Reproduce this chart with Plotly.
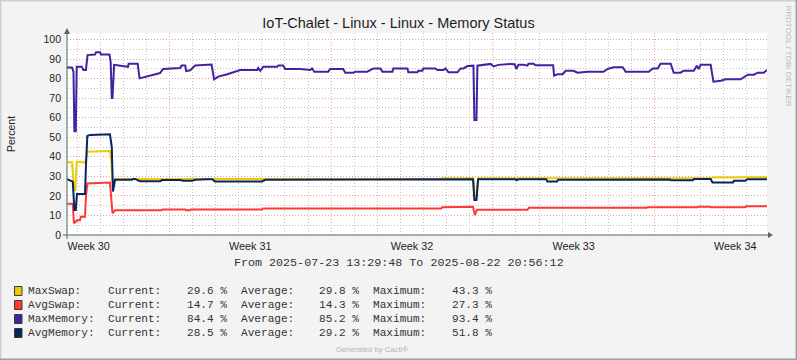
import pandas as pd
import plotly.graph_objects as go

# ---------------- data ----------------
title_text = "IoT-Chalet - Linux - Linux - Memory Status"
t_start = "2025-07-23 13:29:48"
t_end = "2025-08-22 20:56:12"

week_labels = ["Week 30", "Week 31", "Week 32", "Week 33", "Week 34"]
week_label_times = ["2025-07-24 12:00", "2025-07-31 12:00", "2025-08-07 12:00",
                    "2025-08-14 12:00", "2025-08-21 12:00"]
week_start_times = ["2025-07-28", "2025-08-04", "2025-08-11", "2025-08-18"]

y_ticks = [0, 10, 20, 30, 40, 50, 60, 70, 80, 90, 100]
y_minor = [5, 15, 25, 35, 45, 55, 65, 75, 85, 95]

# time of each reading = days after t_start
max_swap_days = [0, 0.22, 0.30, 0.36, 0.42, 0.65, 0.70, 0.78, 0.88, 1.86, 1.92, 1.97, 2.06,
                 7.50, 7.55, 16.20, 16.25, 17.60, 17.66, 17.74, 17.80, 27.90, 27.95,
                 29.40, 29.45, 30.31]
max_swap = [37.2, 37.2, 23.0, 23.0, 37.5, 37.5, 37.0, 37.0, 42.6, 43.0, 38.0, 27.0, 28.6,
            28.6, 28.8, 28.8, 29.0, 29.0, 19.0, 19.0, 29.0, 29.0, 29.4,
            29.4, 29.6, 29.6]

avg_swap_days = [0, 0.25, 0.30, 0.36, 0.42, 0.56, 0.60, 0.78, 0.82, 0.88, 1.86, 1.97, 2.08,
                 4.10, 4.14, 5.12, 5.16, 5.33, 5.37, 8.45, 8.50, 16.20, 16.25, 17.00, 17.04,
                 17.58, 17.66, 17.75, 19.94, 20.00, 25.10, 25.15, 27.30, 27.35, 27.85, 27.90,
                 29.37, 29.42, 30.31]
avg_swap = [16.0, 16.0, 6.0, 6.5, 7.5, 7.5, 9.3, 9.3, 19.6, 26.4, 26.8, 11.1, 12.6,
            12.6, 13.0, 13.0, 12.6, 12.6, 13.0, 13.0, 13.6, 13.6, 14.2, 14.2, 14.4,
            14.4, 10.2, 12.9, 12.9, 13.9, 13.9, 14.2, 14.2, 14.4, 14.4, 14.2,
            14.2, 14.7, 14.7]

max_mem_days = [0, 0.22, 0.28, 0.32, 0.38, 0.42, 0.64, 0.71, 0.82, 0.89, 1.21, 1.26, 1.43,
                1.47, 1.84, 1.89, 1.94, 1.97, 2.04, 2.34, 2.41, 2.64, 2.67, 3.06, 3.14,
                3.43, 3.73, 4.03, 4.16, 4.90, 4.96, 5.12, 5.16, 5.33, 5.55, 6.26, 6.37,
                6.55, 6.94, 7.24, 7.50, 8.24, 8.28, 8.37, 8.50, 9.10, 9.15, 9.36, 9.45,
                10.10, 10.53, 10.61, 10.71, 11.31, 11.40, 11.96, 12.05, 12.40, 12.49,
                13.00, 13.27, 13.57, 13.66, 14.09, 14.13, 14.74, 14.78, 15.17, 15.22,
                15.39, 15.43, 15.95, 16.04, 16.30, 16.39, 16.52, 16.91, 17.04, 17.17,
                17.34, 17.60, 17.64, 17.73, 17.77, 18.21, 18.34, 18.47, 18.68, 19.20,
                19.38, 19.46, 19.55, 19.77, 19.94, 19.98, 20.20, 20.29, 21.05, 21.09,
                21.24, 21.46, 21.59, 21.93, 22.11, 22.54, 23.23, 23.41, 23.67, 24.06,
                24.19, 25.19, 25.36, 25.58, 25.70, 26.14, 26.27, 26.57, 26.70, 27.14,
                27.27, 27.35, 27.44, 27.87, 27.99, 28.31, 28.52, 29.17, 29.30, 29.48,
                29.74, 29.91, 30.17, 30.31]
max_mem = [85.6, 85.6, 83.5, 53.0, 53.0, 86.0, 86.0, 84.4, 84.4, 92.0, 92.3, 93.4, 93.4,
           92.3, 92.3, 88.6, 70.0, 70.0, 87.0, 86.5, 86.0, 86.0, 87.6, 87.6, 80.1,
           81.0, 82.0, 82.8, 84.9, 85.4, 86.7, 86.7, 83.8, 84.2, 86.7, 87.2, 79.6,
           81.0, 82.2, 83.2, 84.4, 84.4, 85.4, 84.0, 86.0, 86.0, 86.7, 86.7, 84.9,
           84.9, 84.4, 85.2, 83.5, 83.5, 84.9, 84.9, 83.0, 83.0, 83.5,
           83.5, 85.2, 85.2, 83.5, 83.5, 85.2, 85.2, 83.2, 83.2, 84.0,
           84.0, 85.2, 85.2, 84.4, 84.4, 85.2, 83.2, 83.2, 85.2, 85.2,
           86.4, 86.6, 58.8, 58.8, 86.6, 87.0, 87.5, 86.2, 87.0, 87.5,
           87.3, 84.9, 87.0, 87.0, 86.6, 87.6, 87.6, 86.8, 86.8, 81.5,
           82.2, 82.2, 84.0, 84.0, 83.0, 83.5, 83.5, 84.9, 85.8, 85.8,
           83.5, 83.5, 85.2, 85.2, 87.6, 87.6, 83.0, 83.0, 84.0, 84.0,
           86.6, 84.9, 87.0, 87.0, 78.4, 78.9, 79.6, 79.6, 80.5, 82.0,
           82.0, 83.0, 83.0, 84.4]

avg_mem_days = [0, 0.25, 0.32, 0.38, 0.43, 0.78, 0.82, 0.88, 1.00, 1.86, 1.94, 1.99, 2.08,
                2.82, 2.86, 2.95, 3.03, 3.16, 4.03, 4.12, 4.90, 5.03, 5.42, 5.55, 6.07,
                6.28, 6.41, 8.45, 8.58, 10.10, 10.20, 17.58, 17.64, 17.73, 17.80, 19.42,
                19.46, 19.55, 20.75, 20.80, 21.22, 21.27, 26.10, 26.15, 27.10, 27.15,
                27.87, 27.95, 28.84, 28.88, 29.37, 29.46, 30.31]
avg_mem = [28.5, 27.3, 12.8, 12.8, 21.0, 21.0, 35.0, 50.6, 51.2, 51.5, 45.0, 22.2, 28.2,
           28.2, 28.7, 28.7, 28.2, 27.5, 27.5, 28.1, 28.1, 27.8, 27.8, 28.2, 28.5,
           28.5, 27.4, 27.4, 28.2, 28.2, 28.5, 28.5, 17.9, 17.9, 28.5, 28.5,
           28.0, 28.5, 28.5, 27.3, 27.3, 28.3, 28.4, 28.0, 28.0, 28.6,
           28.6, 26.8, 26.8, 27.8, 27.8, 28.5, 28.5]

legend_names = ["MaxSwap:", "AvgSwap:", "MaxMemory:", "AvgMemory:"]
legend_current = [29.6, 14.7, 84.4, 28.5]
legend_average = [29.8, 14.3, 85.2, 29.2]
legend_maximum = [43.3, 27.3, 93.4, 51.8]
series_colors = ["#EACC00", "#FF3932", "#4123A1", "#06265E"]
series_days = [max_swap_days, avg_swap_days, max_mem_days, avg_mem_days]
series_vals = [max_swap, avg_swap, max_mem, avg_mem]

# ---------------- layout geometry ----------------
W, H = 797, 360
ML, MR, MT, MB = 67, 30, 33, 125
PW, PH = W - ML - MR, H - MT - MB


def px(x):
    return (x - ML) / PW


def py(y):
    return (H - MB - y) / PH


AXIS = "#4E6B5E"
TXT = "#1E1E1E"
MAJ = "#EE9A9A"
MIN = "#C4C4C4"
DOT = "1px,2px"
MONO = "Liberation Mono, Courier New, monospace"
SANS = "Liberation Sans, Arial, sans-serif"

start = pd.Timestamp(t_start)
day_lines = [d for d in pd.date_range("2025-07-24", "2025-08-22", freq="D")
             if d.strftime("%Y-%m-%d") not in week_start_times]

fig = go.Figure()
for name, days, vals, col in zip(legend_names, series_days, series_vals, series_colors):
    times = start + pd.to_timedelta(days, unit="D")
    fig.add_trace(go.Scatter(x=times, y=vals, mode="lines", name=name.rstrip(":"),
                             line=dict(color=col, width=2), hoverinfo="skip"))

shapes = []
# weekly major grid
for wt in week_start_times:
    shapes.append(dict(type="line", xref="x", yref="paper", x0=wt, x1=wt, y0=0, y1=1,
                       line=dict(color=MAJ, width=1, dash=DOT), layer="between"))
# axes lines + arrows
shapes.append(dict(type="line", xref="paper", yref="paper", x0=px(63), x1=px(769),
                   y0=py(235), y1=py(235), line=dict(color=AXIS, width=1), layer="above"))
shapes.append(dict(type="line", xref="paper", yref="paper", x0=px(67), x1=px(67),
                   y0=py(239), y1=py(33), line=dict(color=AXIS, width=1), layer="above"))
shapes.append(dict(type="path", xref="paper", yref="paper",
                   path=f"M {px(773)} {py(235)} L {px(768)} {py(232)} L {px(768)} {py(238)} Z",
                   fillcolor=AXIS, line=dict(color=AXIS, width=0), layer="above"))
shapes.append(dict(type="path", xref="paper", yref="paper",
                   path=f"M {px(67)} {py(28)} L {px(64)} {py(34)} L {px(70)} {py(34)} Z",
                   fillcolor=AXIS, line=dict(color=AXIS, width=0), layer="above"))
# image frame
shapes.append(dict(type="line", xref="paper", yref="paper", x0=px(0), x1=px(797),
                   y0=py(0.5), y1=py(0.5), line=dict(color="#CFCFCF", width=2)))
shapes.append(dict(type="line", xref="paper", yref="paper", x0=px(0.5), x1=px(0.5),
                   y0=py(0), y1=py(360), line=dict(color="#CFCFCF", width=2)))
shapes.append(dict(type="line", xref="paper", yref="paper", x0=px(796.5), x1=px(796.5),
                   y0=py(0), y1=py(360), line=dict(color="#A0A0A0", width=2)))
shapes.append(dict(type="line", xref="paper", yref="paper", x0=px(0), x1=px(797),
                   y0=py(359.5), y1=py(359.5), line=dict(color="#A0A0A0", width=2)))

annotations = []
annotations.append(dict(text=f"From {t_start} To {t_end}", x=px(398.5), y=py(263),
                        xref="paper", yref="paper", showarrow=False, xanchor="center",
                        yanchor="middle", font=dict(family=MONO, size=11.7, color="#333")))
for i in range(4):
    yy = 291 + 14 * i
    shapes.append(dict(type="rect", xref="paper", yref="paper", x0=px(14.5), x1=px(22),
                       y0=py(yy - 4.5), y1=py(yy + 4.5), fillcolor=series_colors[i],
                       line=dict(color="#3A3A3A", width=1)))
    pieces = [(25.5, legend_names[i]), (106, "Current:"), (185, f"{legend_current[i]:.1f} %"),
              (238.5, "Average:"), (317, f"{legend_average[i]:.1f} %"),
              (370.5, "Maximum:"), (450, f"{legend_maximum[i]:.1f} %")]
    for xx, tx in pieces:
        annotations.append(dict(text=tx, x=px(xx), y=py(yy), xref="paper", yref="paper",
                                showarrow=False, xanchor="left", yanchor="middle",
                                font=dict(family=MONO, size=11.1, color="#333")))
annotations.append(dict(text="Generated by Cacti®", x=px(372), y=py(349), xref="paper",
                        yref="paper", showarrow=False, xanchor="center", yanchor="middle",
                        font=dict(family=SANS, size=7.7, color="#B4B4B4")))
annotations.append(dict(text="RRDTOOL / TOBI OETIKER", x=px(788.5), y=py(56), xref="paper",
                        yref="paper", showarrow=False, xanchor="center", yanchor="middle",
                        textangle=90, font=dict(family=SANS, size=8, color="#B9B9B9")))

fig.update_layout(
    width=W, height=H,
    margin=dict(l=ML, r=MR, t=MT, b=MB),
    paper_bgcolor="#F3F3F3", plot_bgcolor="#FFFFFF",
    showlegend=False,
    title=dict(text=title_text, x=0.5, xanchor="center", y=1 - 22.5 / H, yanchor="middle",
               yref="container", font=dict(family=SANS, size=14.5, color=TXT)),
    xaxis=dict(type="date", range=[t_start, t_end], tickmode="array",
               tickvals=week_label_times, ticktext=week_labels, showgrid=False,
               zeroline=False, showline=False, ticks="", ticklabelstandoff=3,
               tickfont=dict(family=SANS, size=10.8, color=TXT),
               minor=dict(tickmode="array", tickvals=day_lines,
                          showgrid=True, gridcolor=MIN, griddash=DOT, gridwidth=1, ticks="")),
    yaxis=dict(range=[0, 103.3], tickmode="array", tickvals=y_ticks, showgrid=True,
               gridcolor=MAJ, griddash=DOT, gridwidth=1,
               zeroline=False, showline=False, ticks="", ticklabelstandoff=5,
               tickfont=dict(family=SANS, size=10.5, color=TXT),
               title=dict(text="Percent", standoff=25, font=dict(family=SANS, size=10.5, color=TXT)),
               minor=dict(tickmode="array", tickvals=y_minor, showgrid=True,
                          gridcolor=MIN, griddash=DOT, gridwidth=1, ticks="")),
    shapes=shapes,
    annotations=annotations,
)

fig.write_html("out.html", config={"displayModeBar": False},
               post_script="document.body.style.margin='0';")
